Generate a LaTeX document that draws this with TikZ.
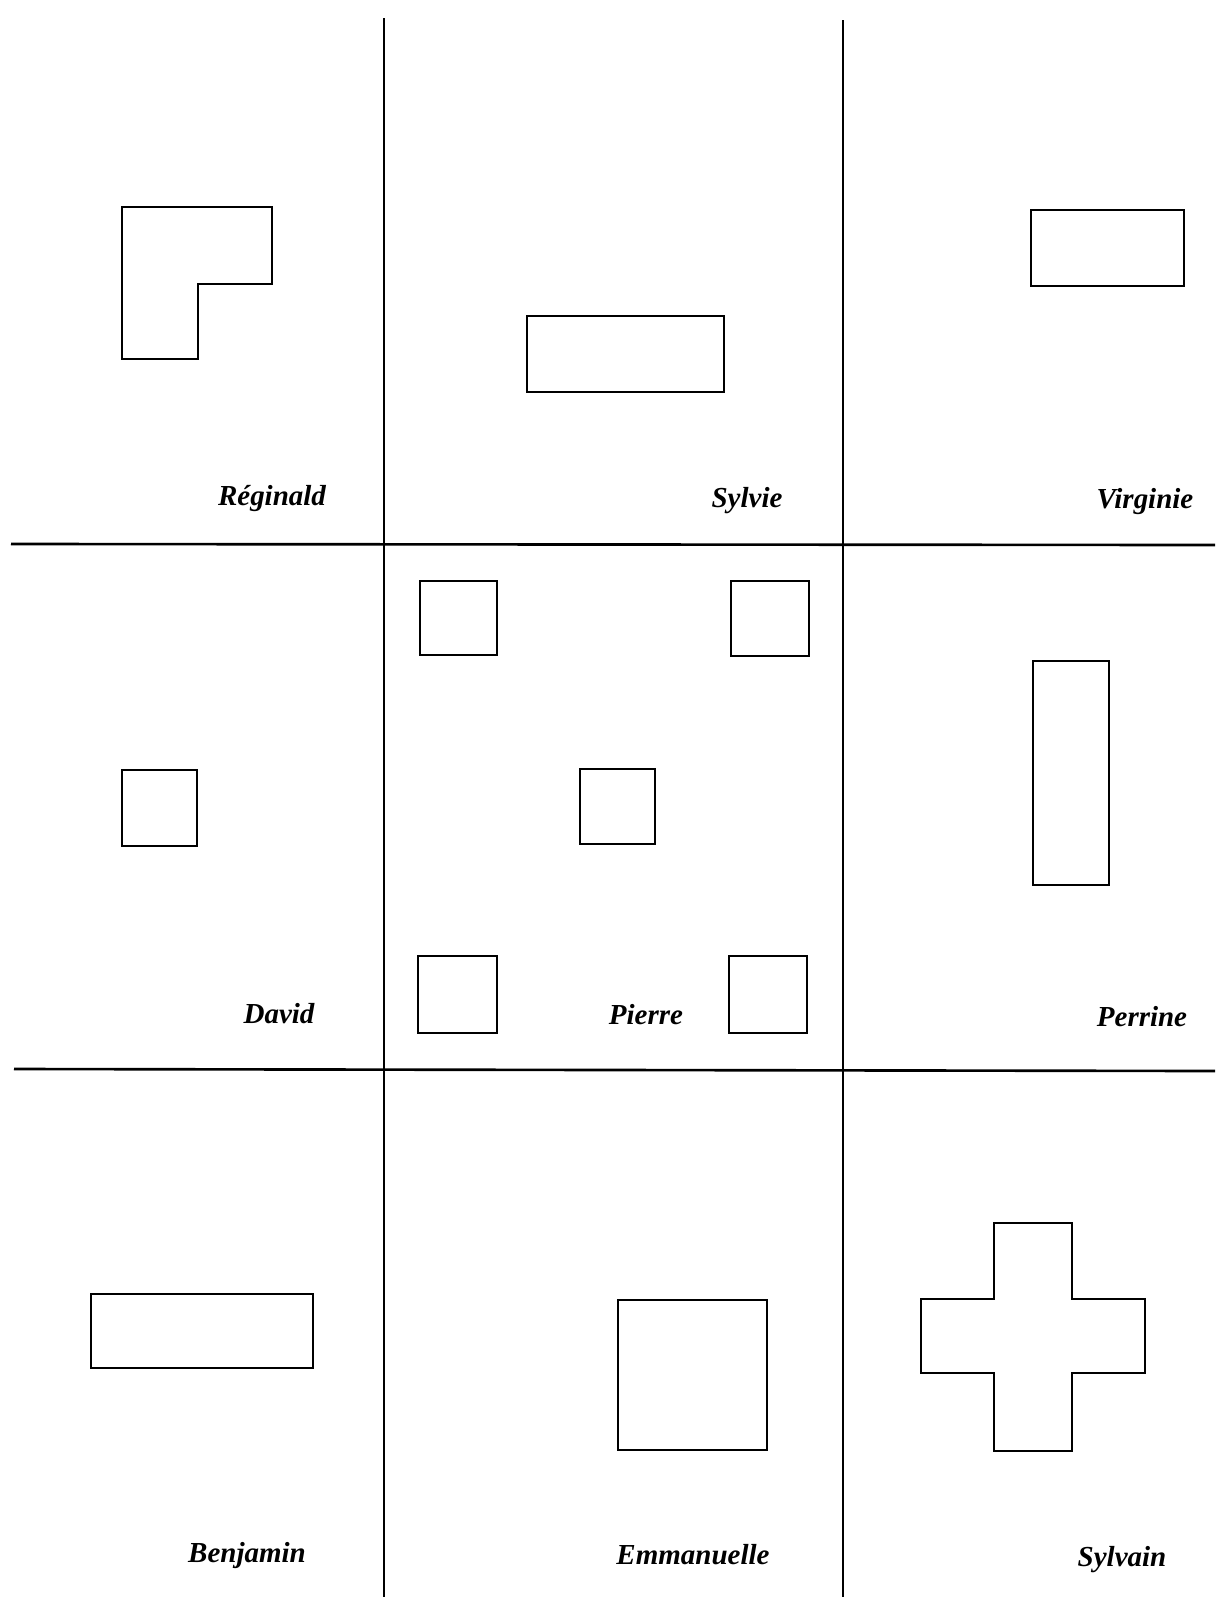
\documentclass[tikz,border=0pt]{standalone}
\usepackage{fontspec}
\setmainfont{Liberation Serif}
\usepackage{tikz}

\begin{document}
\begin{tikzpicture}[
  x=0.02cm, y=-0.02cm,
  frame/.style={line width=1.1pt, draw=black},
  rule/.style={line width=1.5pt, draw=black},
  outline/.style={line width=1.6pt, draw=black, line join=miter},
  pname/.style={anchor=base, inner sep=0pt,
                font=\fontsize{16.5}{20}\selectfont\bfseries\itshape}
]
\useasboundingbox (0,0) rectangle (1215,1597);

% Grid
\draw[frame] (384,18) -- (384,1597);
\draw[frame] (843,20) -- (843,1597);
\draw[rule] (11,544) -- (1215,545);
\draw[rule] (14,1069) -- (1215,1071);

% Top row
\draw[outline] (122,207) -- (272,207) -- (272,284) -- (198,284) -- (198,359) -- (122,359) -- cycle;
\draw[outline] (527,316) rectangle (724,392);
\draw[outline] (1031,210) rectangle (1184,286);

\node[pname] (reginald) at (272,505) {Réginald};
\node[pname] (sylvie)   at (747,507) {Sylvie};
\node[pname] (virginie) at (1145,508) {Virginie};

% Middle row
\draw[outline] (122,770) rectangle (197,846);
\draw[outline] (420,581) rectangle (497,655);
\draw[outline] (731,581) rectangle (809,656);
\draw[outline] (580,769) rectangle (655,844);
\draw[outline] (418,956) rectangle (497,1033);
\draw[outline] (729,956) rectangle (807,1033);
\draw[outline] (1033,661) rectangle (1109,885);

\node[pname] (david)   at (279,1023) {David};
\node[pname] (pierre)  at (646,1024) {Pierre};
\node[pname] (perrine) at (1142,1026) {Perrine};

% Bottom row
\draw[outline] (91,1294) rectangle (313,1368);
\draw[outline] (618,1300) rectangle (767,1450);
\draw[outline] (994,1223) -- (1072,1223) -- (1072,1299) -- (1145,1299) -- (1145,1373)
  -- (1072,1373) -- (1072,1451) -- (994,1451) -- (994,1373) -- (921,1373)
  -- (921,1299) -- (994,1299) -- cycle;

\node[pname] (benjamin)   at (247,1562) {Benjamin};
\node[pname] (emmanuelle) at (693,1564) {Emmanuelle};
\node[pname] (sylvain)    at (1122,1566) {Sylvain};

\end{tikzpicture}
\end{document}
